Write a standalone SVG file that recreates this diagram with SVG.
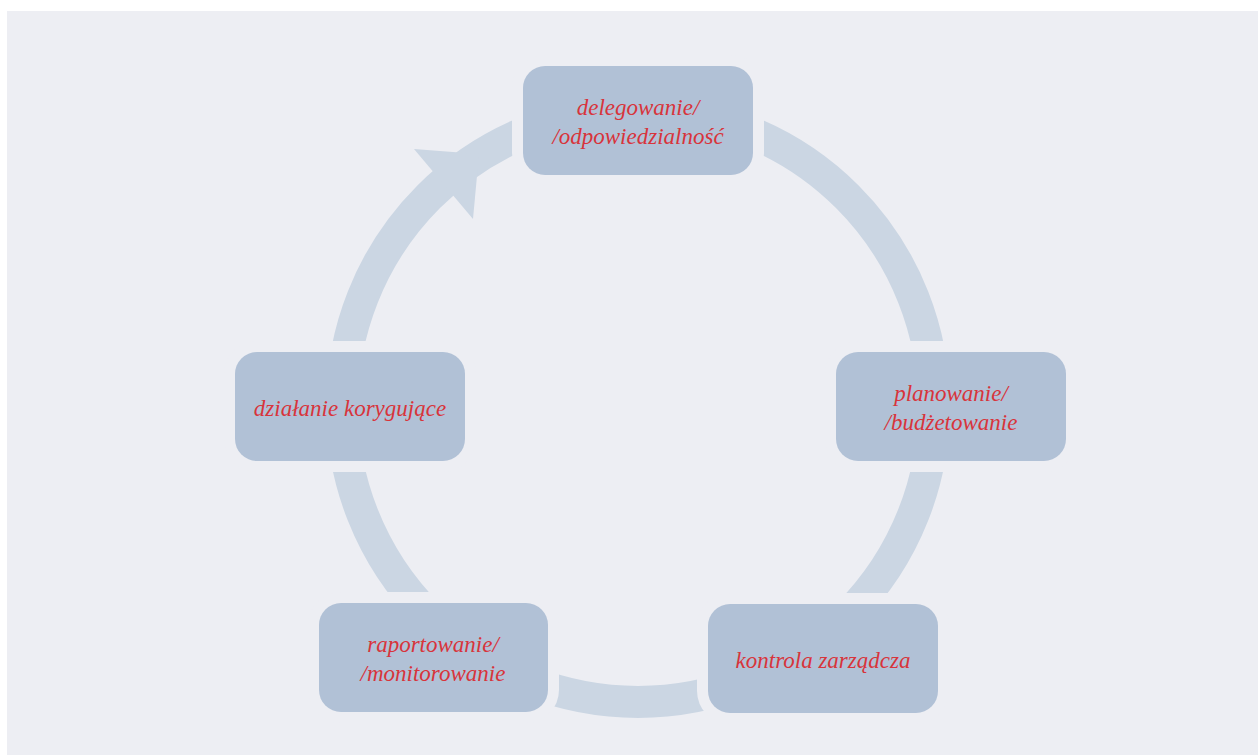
<svg xmlns="http://www.w3.org/2000/svg" width="1258" height="755" viewBox="0 0 1258 755">
<style>
.bg{fill:#edeef3}
.ring{fill:none;stroke:#cbd6e3;stroke-width:32}
.head{fill:#cbd6e3}
.halo{fill:#edeef3}
.box{fill:#b1c1d6}
.lbl{font-family:"Liberation Serif","Times New Roman",serif;font-style:italic;font-size:23px;fill:#d8343b;text-anchor:middle}
</style>
<rect width="1258" height="755" fill="#ffffff"/>
<rect class="bg" x="7" y="11" width="1251" height="744"/>
<g id="connectors">
<circle class="ring" cx="638" cy="406" r="296"/>
<polygon class="head" points="414,149 479,154 473,219"/>
</g>
<g id="node-delegowanie">
<rect class="halo" x="512" y="55" width="252" height="131" rx="33"/>
<rect class="box" x="523" y="66" width="230" height="109" rx="22"/>
<text class="lbl" x="638" y="115">delegowanie/</text>
<text class="lbl" x="638" y="144">/odpowiedzialność</text>
</g>
<g id="node-planowanie">
<rect class="halo" x="825" y="341" width="252" height="131" rx="33"/>
<rect class="box" x="836" y="352" width="230" height="109" rx="22"/>
<text class="lbl" x="951" y="401">planowanie/</text>
<text class="lbl" x="951" y="430">/budżetowanie</text>
</g>
<g id="node-kontrola">
<rect class="halo" x="697" y="593" width="252" height="131" rx="33"/>
<rect class="box" x="708" y="604" width="230" height="109" rx="22"/>
<text class="lbl" x="823" y="668">kontrola zarządcza</text>
</g>
<g id="node-raportowanie">
<rect class="halo" x="308" y="592" width="251" height="131" rx="33"/>
<rect class="box" x="319" y="603" width="229" height="109" rx="22"/>
<text class="lbl" x="433" y="652">raportowanie/</text>
<text class="lbl" x="433" y="681">/monitorowanie</text>
</g>
<g id="node-dzialanie">
<rect class="halo" x="224" y="341" width="252" height="131" rx="33"/>
<rect class="box" x="235" y="352" width="230" height="109" rx="22"/>
<text class="lbl" x="350" y="416">działanie korygujące</text>
</g>
</svg>
